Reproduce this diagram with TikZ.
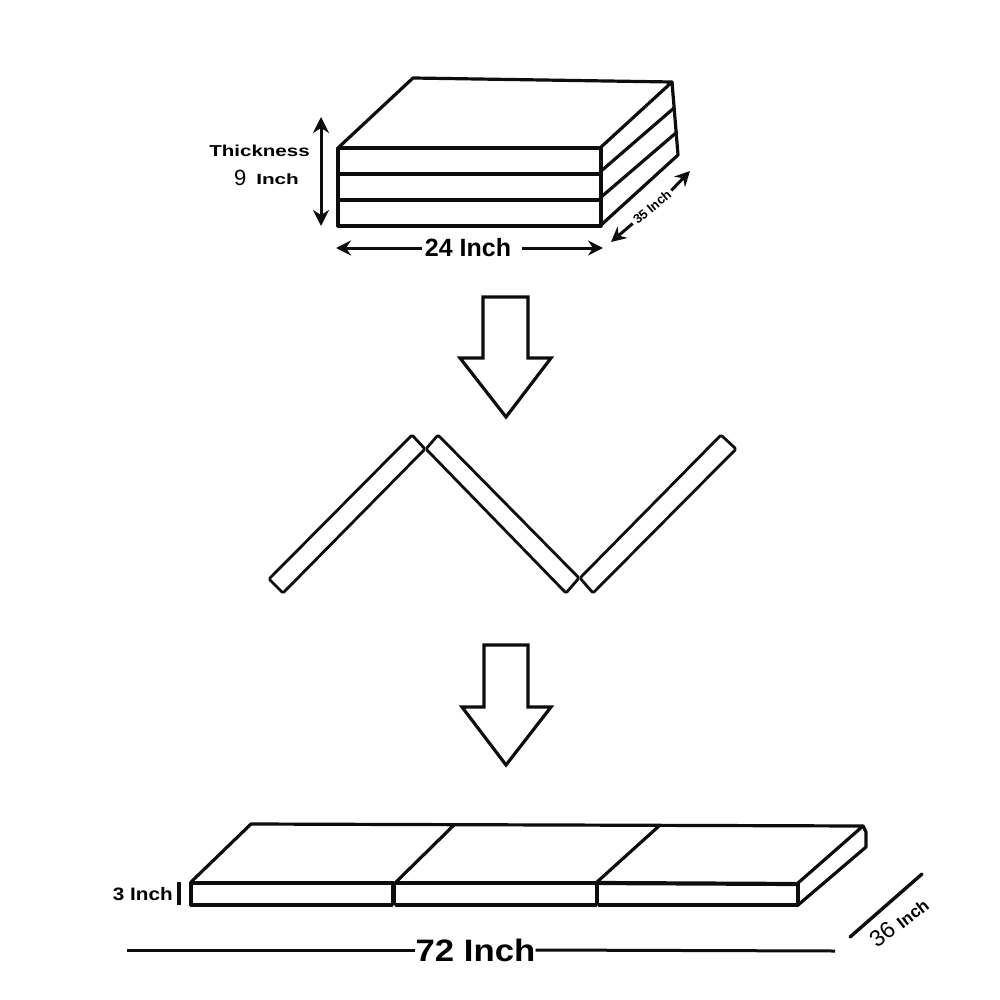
\documentclass[tikz,border=0pt]{standalone}
\usepackage{fontspec}
\setmainfont{Liberation Sans}
\usetikzlibrary{arrows.meta}
\tikzset{
  edge3/.style={line width=4.2pt,line join=round,line cap=round,black!95},
  edge2/.style={line width=3.2pt,line join=round,line cap=round,black!95},
  flat/.style={line width=2.8pt,line join=round,line cap=round,rounded corners=1.5pt,black!95},
  dim/.style={line width=3pt,black!95,{Stealth[length=16pt,width=16pt,inset=5pt]}-{Stealth[length=16pt,width=16pt,inset=5pt]}},
  oneway/.style={line width=3pt,black!95,-{Stealth[length=15pt,width=15pt,inset=5pt]}},
  bigarrow/.style={line width=3.2pt,line join=miter,black!95},
  lab/.style={inner sep=0pt,font=\bfseries,text=black},
}
\newcommand{\lbl}[2]{\fontsize{#1}{#1}\selectfont #2}
\begin{document}
\begin{tikzpicture}[x=1pt,y=-1pt]
\useasboundingbox (0,0) rectangle (1000,1000);
% stacked mattress
\draw[edge2] (339,147) -- (413,78) -- (672,82) -- (600,148);
\draw[edge2] (672,82) -- (678,155) -- (600,226);
\draw[edge2] (600,172) -- (674,108);
\draw[edge2] (600,198) -- (677,132);
\draw[edge3] (339,148) -- (600,148);
\draw[edge3] (339,174) -- (600,174);
\draw[edge3] (339,200) -- (600,200);
\draw[edge2] (338,148) -- (338,226) -- (601,226) -- (601,148);
% stack dimensions
\coordinate (tt) at (321,117); \coordinate (tb) at (321,226);
\draw[dim] (tt) -- (tb);
\node[lab,xscale=1.3] (thick) at (259.5,151) {\lbl{15.8}{Thickness}};
\node[lab,anchor=west,font=\normalfont] (nine) at (234,178) {\lbl{22}{9}};
\node[lab,anchor=west,xscale=1.4] (nineinch) at (256,179.5) {\lbl{14.8}{Inch}};
\node[lab,font=\bfseries] (w24) at (468,248) {\lbl{25}{24 Inch}};
\coordinate (wl) at (336,248); \coordinate (wr) at (603,248);
\draw[oneway] (w24.west) ++(-3,0) -- (wl);
\draw[oneway] (w24.east) ++(11,0) -- (wr);
\node[lab,rotate=40] (d35) at (652,207) {\lbl{13}{35 Inch}};
\coordinate (dl) at (611,242); \coordinate (dr) at (690,171);
\draw[oneway] (d35.west) ++(-2,2) -- (dl);
\draw[oneway] (d35.east) ++(2,-2) -- (dr);
% block arrows
\draw[bigarrow] (483,297) -- (528,297) -- (528,358) -- (551,358) -- (506,417) -- (460,358) -- (483,358) -- cycle;
\draw[bigarrow] (484,645) -- (528,645) -- (528,707) -- (551,707) -- (506,765) -- (462,707) -- (484,707) -- cycle;
% zigzag
\draw[flat] (269,579) -- (412,435) -- (425,449) -- (283,593) -- cycle;
\draw[flat] (438,435) -- (426,449) -- (566,593) -- (579,578) -- cycle;
\draw[flat] (580,578) -- (721,435) -- (736,449) -- (593,593) -- cycle;
% unfolded mattress
\draw[edge2] (191,882) -- (251,824) -- (863,826) -- (798,883);
\draw[edge2] (396,882) -- (454,825);
\draw[edge2] (597,882) -- (659,826);
\draw[edge2] (863,826) -- (866,832) -- (866,847) -- (798,905);
\draw[edge3] (191,883) -- (393,883);
\draw[edge3] (396,883) -- (597,883);
\draw[edge3] (599,883) -- (798,884);
\draw[edge2] (191,883) -- (191,905) -- (392,905);
\draw[line width=4.5pt,black!95] (393.5,883) -- (393.5,905);
\draw[edge2] (396,905) -- (596,905);
\draw[line width=4pt,black!95] (597,883) -- (597,905);
\draw[edge2] (599,905) -- (798,905);
\draw[line width=4pt,black!95] (798,884) -- (798,905);
% unfolded dimensions
\node[lab,anchor=east,xscale=1.15] (h3) at (173,894) {\lbl{18}{3 Inch}};
\coordinate (bt) at (179,882); \coordinate (bb) at (179,905);
\draw[line width=3.6pt,black!95] (bt) -- (bb);
\node[lab,xscale=1.12] (w72) at (475.5,950) {\lbl{31}{72 Inch}};
\coordinate (ll) at (127,950); \coordinate (lr) at (835,951);
\draw[line width=3pt,black!95] (ll) -- (w72.west);
\draw[line width=3pt,black!95] (w72.east) -- (lr);
\coordinate (sa) at (850,937); \coordinate (sb) at (922,874);
\draw[line width=3.4pt,line cap=round,black!95] (sa) -- (sb);
\node[lab,font=\normalfont,rotate=38] (d36) at (899,922) {\lbl{23}{36 {\bfseries\fontsize{17}{17}\selectfont Inch}}};
\end{tikzpicture}
\end{document}
